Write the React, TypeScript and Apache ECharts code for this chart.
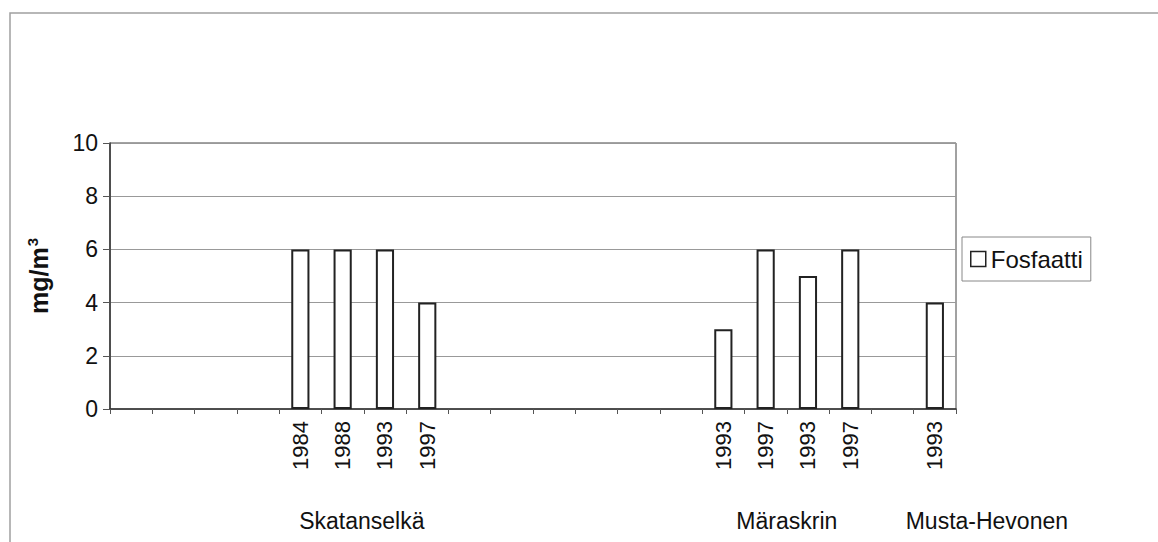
import React, { useEffect, useRef } from "react";
import * as echarts from "echarts";

// Category slots along the x axis (empty strings are spacer slots between sites)
const yearLabels: string[] = [
  "", "", "", "", "1984", "1988", "1993", "1997", "", "",
  "", "", "", "", "1993", "1997", "1993", "1997", "", "1993",
];

// Phosphate concentration, mg/m3 (null = no sample in that slot)
const fosfaatti: (number | null)[] = [
  null, null, null, null, 6, 6, 6, 4, null, null,
  null, null, null, null, 3, 6, 5, 6, null, 4,
];

const seriesName = "Fosfaatti";
const yTicks = [0, 2, 4, 6, 8, 10];

// Site names and the slot range each one covers
const siteNames = ["Skatanselkä", "Märaskrin", "Musta-Hevonen"];
const siteFrom = [4, 14, 19];
const siteTo = [7, 17, 19];

export default function App() {
  const ref = useRef<HTMLDivElement>(null);

  useEffect(() => {
    if (!ref.current) return;
    const chart = echarts.init(ref.current, null, { renderer: "svg" });
    const font = "Arial, 'Liberation Sans', Helvetica, sans-serif";

    chart.setOption({
      animation: false,
      backgroundColor: "#fff",
      textStyle: { fontFamily: font },
      grid: {
        left: 110,
        right: 202,
        top: 143,
        bottom: 133,
        show: true,
        borderColor: "#444",
        borderWidth: 1,
        containLabel: false,
      },
      legend: {
        show: true,
        data: [seriesName],
        left: 962,
        top: 237,
        orient: "vertical",
        padding: [10, 8, 10, 8],
        borderColor: "#888",
        borderWidth: 1,
        backgroundColor: "#fff",
        icon: "rect",
        itemWidth: 15,
        itemHeight: 15,
        itemGap: 0,
        itemStyle: { color: "#fff", borderColor: "#222", borderWidth: 1.5 },
        textStyle: { fontSize: 24, color: "#111", fontFamily: font },
      },
      xAxis: {
        type: "category",
        data: yearLabels,
        axisLine: { show: true, lineStyle: { color: "#333", width: 1.5 } },
        axisTick: {
          show: true,
          alignWithLabel: false,
          interval: 0,
          length: 5,
          lineStyle: { color: "#555" },
        },
        axisLabel: {
          interval: 0,
          rotate: 90,
          margin: 12,
          fontSize: 22,
          color: "#111",
          fontFamily: font,
        },
        splitLine: { show: false },
      },
      yAxis: {
        type: "value",
        min: yTicks[0],
        max: yTicks[yTicks.length - 1],
        interval: 2,
        name: "{a|mg/m}{s|3}",
        nameLocation: "middle",
        nameGap: 58,
        nameRotate: 90,
        nameTextStyle: {
          rich: {
            a: { fontSize: 25, fontWeight: "bold", color: "#111", fontFamily: font },
            s: {
              fontSize: 15,
              fontWeight: "bold",
              color: "#111",
              fontFamily: font,
              verticalAlign: "top",
              padding: [0, 0, 12, 1],
            },
          },
        },
        axisLine: { show: true, lineStyle: { color: "#333", width: 1.5 } },
        axisTick: { show: true, inside: false, length: 7, lineStyle: { color: "#555" } },
        axisLabel: { fontSize: 23, color: "#111", margin: 12, fontFamily: font },
        splitLine: { show: true, lineStyle: { color: "#999", width: 1 } },
      },
      series: [
        {
          name: seriesName,
          type: "bar",
          data: fosfaatti,
          barWidth: "43%",
          itemStyle: { color: "#fff", borderColor: "#222", borderWidth: 2 },
        },
      ],
    });

    // Site names under the year labels, centred on the slots they cover
    const siteShift = [-2, 0, 52];
    const siteTexts = siteNames.map((name, i) => {
      const x0 = chart.convertToPixel({ xAxisIndex: 0 }, siteFrom[i]) as number;
      const x1 = chart.convertToPixel({ xAxisIndex: 0 }, siteTo[i]) as number;
      return {
        type: "text",
        x: (x0 + x1) / 2 + siteShift[i],
        y: 521,
        style: {
          text: name,
          fontSize: 23,
          fontFamily: font,
          fill: "#111",
          textAlign: "center",
          textVerticalAlign: "middle",
        },
      };
    });

    chart.setOption({
      graphic: [
        {
          type: "rect",
          shape: { x: 10, y: 13, width: 1200, height: 600 },
          style: { fill: "none", stroke: "#a0a0a0", lineWidth: 1.5 },
          silent: true,
        },
        ...siteTexts,
      ],
    });

    return () => chart.dispose();
  }, []);

  return (
    <div
      ref={ref}
      style={{ position: "fixed", left: 0, top: 0, width: 1158, height: 542 }}
    />
  );
}
